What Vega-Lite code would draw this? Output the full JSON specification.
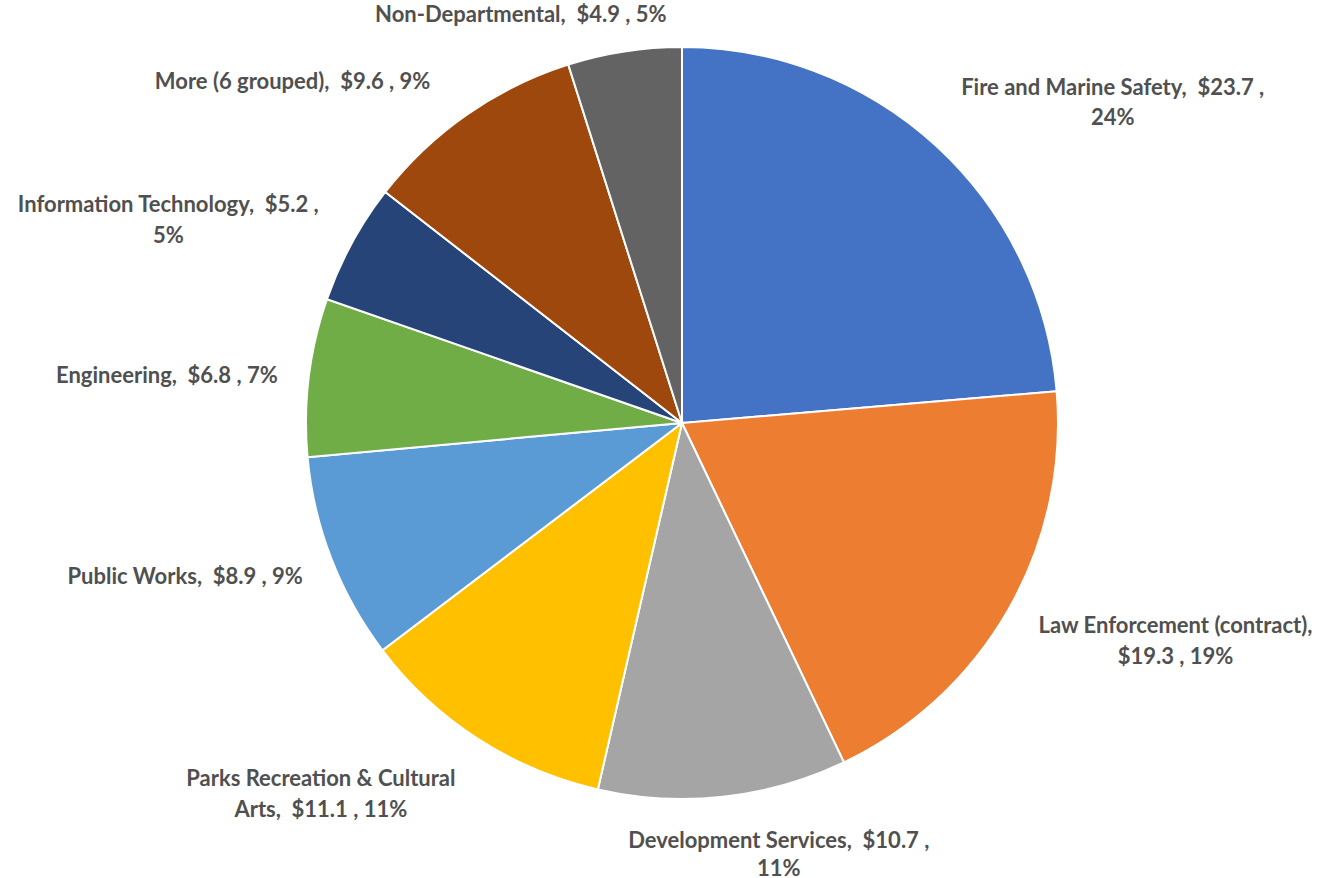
{
  "$schema": "https://vega.github.io/schema/vega-lite/v6.json",
  "width": 1282,
  "height": 846,
  "autosize": "none",
  "padding": {"left": 41, "top": 0, "right": 0, "bottom": 32},
  "background": "white",
  "config": {"view": {"stroke": null}},
  "data": {"values": [
    {"idx": 1, "cat": "Fire and Marine Safety", "value": 23.7, "label": "Fire and Marine Safety,\u00a0 $23.7 ,|24%"},
    {"idx": 2, "cat": "Law Enforcement (contract)", "value": 19.3, "label": "Law Enforcement (contract),|$19.3 , 19%"},
    {"idx": 3, "cat": "Development Services", "value": 10.7, "label": "Development Services,\u00a0 $10.7 ,|11%"},
    {"idx": 4, "cat": "Parks Recreation & Cultural Arts", "value": 11.1, "label": "Parks Recreation & Cultural|Arts,\u00a0 $11.1 , 11%"},
    {"idx": 5, "cat": "Public Works", "value": 8.9, "label": "Public Works,\u00a0 $8.9 , 9%"},
    {"idx": 6, "cat": "Engineering", "value": 6.8, "label": "Engineering,\u00a0 $6.8 , 7%"},
    {"idx": 7, "cat": "Information Technology", "value": 5.2, "label": "Information Technology,\u00a0 $5.2 ,|5%"},
    {"idx": 8, "cat": "More (6 grouped)", "value": 9.6, "label": "More (6 grouped),\u00a0 $9.6 , 9%"},
    {"idx": 9, "cat": "Non-Departmental", "value": 4.9, "label": "Non-Departmental,\u00a0 $4.9 , 5%"}
  ]},
  "encoding": {
    "theta": {"field": "value", "type": "quantitative", "stack": true},
    "order": {"field": "idx", "type": "quantitative"}
  },
  "layer": [
    {
      "mark": {"type": "arc", "outerRadius": 376, "stroke": "white", "strokeWidth": 2},
      "encoding": {
        "color": {"field": "cat", "type": "nominal", "legend": null,
          "scale": {
            "domain": ["Fire and Marine Safety", "Law Enforcement (contract)", "Development Services", "Parks Recreation & Cultural Arts", "Public Works", "Engineering", "Information Technology", "More (6 grouped)", "Non-Departmental"],
            "range": ["#4472C4", "#ED7D31", "#A5A5A5", "#FFC000", "#5B9BD5", "#70AD47", "#264478", "#9E480E", "#636363"]
          }}
      }
    },
    {
      "mark": {"type": "text", "radius": 539, "dx": 66, "dy": 62, "font": "Lato", "fontWeight": "bold", "fontSize": 22, "lineBreak": "|", "lineHeight": 30, "color": "#505050", "align": "center", "baseline": "middle"},
      "encoding": {"text": {"condition": {"test": "datum.idx === 1", "field": "label"}, "value": ""}}
    },
    {
      "mark": {"type": "text", "radius": 540, "dx": 25, "dy": -66, "font": "Lato", "fontWeight": "bold", "fontSize": 22, "lineBreak": "|", "lineHeight": 31, "color": "#505050", "align": "center", "baseline": "middle"},
      "encoding": {"text": {"condition": {"test": "datum.idx === 2", "field": "label"}, "value": ""}}
    },
    {
      "mark": {"type": "text", "radius": 445, "dx": 48, "dy": -24, "font": "Lato", "fontWeight": "bold", "fontSize": 22, "lineBreak": "|", "lineHeight": 28, "color": "#505050", "align": "center", "baseline": "middle"},
      "encoding": {"text": {"condition": {"test": "datum.idx === 3", "field": "label"}, "value": ""}}
    },
    {
      "mark": {"type": "text", "radius": 518, "dx": -80, "dy": -79, "font": "Lato", "fontWeight": "bold", "fontSize": 22, "lineBreak": "|", "lineHeight": 31, "color": "#505050", "align": "center", "baseline": "middle"},
      "encoding": {"text": {"condition": {"test": "datum.idx === 4", "field": "label"}, "value": ""}}
    },
    {
      "mark": {"type": "text", "radius": 520, "dx": -12, "dy": -34, "font": "Lato", "fontWeight": "bold", "fontSize": 22, "lineBreak": "|", "lineHeight": 31, "color": "#505050", "align": "center", "baseline": "middle"},
      "encoding": {"text": {"condition": {"test": "datum.idx === 5", "field": "label"}, "value": ""}}
    },
    {
      "mark": {"type": "text", "radius": 517, "dx": -2, "dy": 16, "font": "Lato", "fontWeight": "bold", "fontSize": 22, "lineBreak": "|", "lineHeight": 31, "color": "#505050", "align": "center", "baseline": "middle"},
      "encoding": {"text": {"condition": {"test": "datum.idx === 6", "field": "label"}, "value": ""}}
    },
    {
      "mark": {"type": "text", "radius": 553, "dx": -28, "dy": 46, "font": "Lato", "fontWeight": "bold", "fontSize": 22, "lineBreak": "|", "lineHeight": 31, "color": "#505050", "align": "center", "baseline": "middle"},
      "encoding": {"text": {"condition": {"test": "datum.idx === 7", "field": "label"}, "value": ""}}
    },
    {
      "mark": {"type": "text", "radius": 517, "dx": -94, "dy": 83, "font": "Lato", "fontWeight": "bold", "fontSize": 22, "lineBreak": "|", "lineHeight": 31, "color": "#505050", "align": "center", "baseline": "middle"},
      "encoding": {"text": {"condition": {"test": "datum.idx === 8", "field": "label"}, "value": ""}}
    },
    {
      "mark": {"type": "text", "radius": 439, "dx": -94, "dy": 26, "font": "Lato", "fontWeight": "bold", "fontSize": 22, "lineBreak": "|", "lineHeight": 31, "color": "#505050", "align": "center", "baseline": "middle"},
      "encoding": {"text": {"condition": {"test": "datum.idx === 9", "field": "label"}, "value": ""}}
    }
  ]
}
